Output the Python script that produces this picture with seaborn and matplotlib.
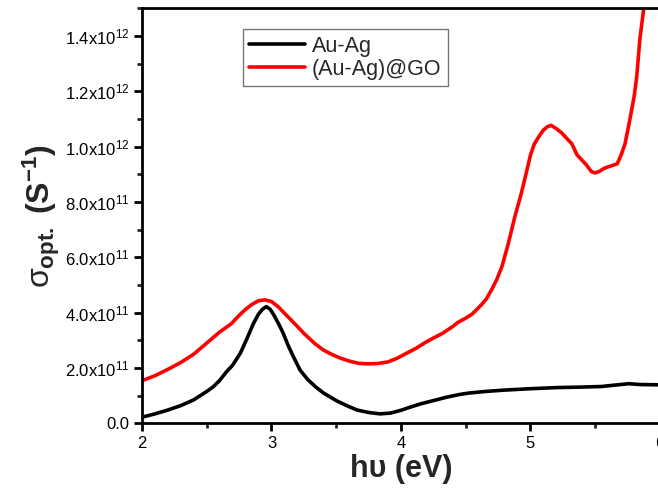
import numpy as np
import pandas as pd
import matplotlib
matplotlib.use("Agg")
import matplotlib.pyplot as plt
import seaborn as sns
from matplotlib.ticker import MultipleLocator, FuncFormatter

# Data (energy in eV, conductivity in units of 1e11 S^-1)
x_auag = [2.0, 2.1, 2.2, 2.3, 2.4, 2.5, 2.55, 2.6, 2.65, 2.7, 2.76, 2.8, 2.86, 2.9, 2.93,
          2.96, 2.99, 3.02, 3.06, 3.09, 3.13, 3.17, 3.22, 3.28, 3.34, 3.4, 3.5, 3.58,
          3.66, 3.75, 3.84, 3.92, 4.0, 4.05, 4.15, 4.25, 4.35, 4.45, 4.52, 4.65, 4.8,
          5.0, 5.2, 5.4, 5.55, 5.65, 5.76, 5.85, 6.0]
y_auag = [0.22, 0.34, 0.48, 0.64, 0.85, 1.15, 1.32, 1.55, 1.85, 2.1, 2.54, 2.95, 3.6, 3.95,
          4.12, 4.22, 4.12, 3.9, 3.55, 3.26, 2.8, 2.4, 1.93, 1.58, 1.32, 1.1, 0.82, 0.64,
          0.48, 0.39, 0.34, 0.37, 0.47, 0.55, 0.7, 0.82, 0.94, 1.04, 1.09, 1.15, 1.2,
          1.25, 1.29, 1.31, 1.33, 1.38, 1.43, 1.4, 1.39]

x_auag_go = [2.0, 2.1, 2.2, 2.3, 2.4, 2.5, 2.6, 2.69, 2.75, 2.8, 2.85, 2.9, 2.95, 3.0,
             3.05, 3.1, 3.15, 3.2, 3.25, 3.33, 3.4, 3.47, 3.53, 3.6, 3.67, 3.74, 3.82,
             3.9, 3.97, 4.05, 4.12, 4.18, 4.25, 4.32, 4.4, 4.44, 4.5, 4.55, 4.62, 4.66,
             4.7, 4.74, 4.78, 4.83, 4.88, 4.93, 4.97, 5.0, 5.03, 5.07, 5.1, 5.13, 5.16,
             5.2, 5.24, 5.28, 5.32, 5.36, 5.4, 5.43, 5.47, 5.5, 5.53, 5.57, 5.62, 5.67,
             5.7, 5.73, 5.76, 5.8, 5.82, 5.845, 5.875, 5.9]
y_auag_go = [1.54, 1.72, 1.95, 2.2, 2.5, 2.9, 3.3, 3.6, 3.9, 4.12, 4.3, 4.43, 4.46, 4.4,
             4.22, 3.98, 3.74, 3.5, 3.25, 2.9, 2.65, 2.48, 2.36, 2.25, 2.17, 2.15, 2.16,
             2.22, 2.35, 2.55, 2.72, 2.9, 3.08, 3.25, 3.5, 3.65, 3.8, 3.95, 4.28, 4.5,
             4.83, 5.2, 5.67, 6.52, 7.48, 8.33, 9.1, 9.7, 10.1, 10.4, 10.6, 10.72, 10.77,
             10.65, 10.5, 10.3, 10.1, 9.7, 9.5, 9.35, 9.1, 9.05, 9.1, 9.22, 9.3, 9.38,
             9.7, 10.1, 10.8, 11.8, 12.5, 13.9, 15.0, 16.0]

y_tick_labels = {0: "0.0", 2: r"2.0x10$^{11}$", 4: r"4.0x10$^{11}$", 6: r"6.0x10$^{11}$",
                 8: r"8.0x10$^{11}$", 10: r"1.0x10$^{12}$", 12: r"1.2x10$^{12}$",
                 14: r"1.4x10$^{12}$"}

df = pd.concat([
    pd.DataFrame({"E": x_auag, "sigma": np.array(y_auag) * 1e11, "sample": "Au-Ag"}),
    pd.DataFrame({"E": x_auag_go, "sigma": np.array(y_auag_go) * 1e11, "sample": "(Au-Ag)@GO"}),
])

sns.set_theme(style="white")
plt.rcParams["font.family"] = ["Liberation Sans", "DejaVu Sans"]
plt.rcParams["mathtext.fontset"] = "custom"
plt.rcParams["mathtext.rm"] = "Liberation Sans"
plt.rcParams["mathtext.it"] = "Liberation Sans"
plt.rcParams["mathtext.bf"] = "Liberation Sans:bold"

fig = plt.figure(figsize=(6.58, 4.96), dpi=100)
ax = fig.add_axes([0.2158, 0.1466, 0.7842 + 0.003, 0.8366])

sns.lineplot(data=df, x="E", y="sigma", hue="sample",
             palette={"Au-Ag": "#000000", "(Au-Ag)@GO": "#ff0000"},
             linewidth=2.6, sort=False, estimator=None, ax=ax)

ax.set_xlim(2, 6)
ax.set_ylim(0, 1.5e12)
ax.xaxis.set_major_locator(MultipleLocator(1))
ax.xaxis.set_minor_locator(MultipleLocator(0.5))
ax.yaxis.set_major_locator(MultipleLocator(2e11))
ax.yaxis.set_minor_locator(MultipleLocator(1e11))
ax.yaxis.set_major_formatter(FuncFormatter(lambda v, p: y_tick_labels.get(int(round(v / 1e11)), "")))
ax.xaxis.set_major_formatter(FuncFormatter(lambda v, p: f"{int(round(v))}"))

for s in ax.spines.values():
    s.set_linewidth(2.0)
    s.set_color("black")
ax.tick_params(which="major", direction="out", length=6, width=2, labelsize=12, pad=3,
               bottom=True, left=True, colors="black")
ax.tick_params(which="minor", direction="out", length=3.5, width=2, bottom=True, left=True)

ax.set_xlabel("h\u03c5 (eV)", fontsize=22, fontweight="bold", labelpad=2)
ax.set_ylabel(r"$\sigma_{\mathbf{opt.}}$ $\mathbf{(S^{-1})}$", fontsize=23, labelpad=2)

leg = ax.legend(loc="upper left", bbox_to_anchor=(0.195, 0.95), fontsize=15.5,
                frameon=True, fancybox=False, handlelength=2.6, handletextpad=0.3,
                borderpad=0.3, labelspacing=0.1, borderaxespad=0)
leg.get_frame().set_edgecolor("#555555")
leg.get_frame().set_linewidth(1.0)
leg.set_title(None)
for h in leg.get_lines():
    h.set_linewidth(2.6)

fig.savefig("out.png", dpi=100)
